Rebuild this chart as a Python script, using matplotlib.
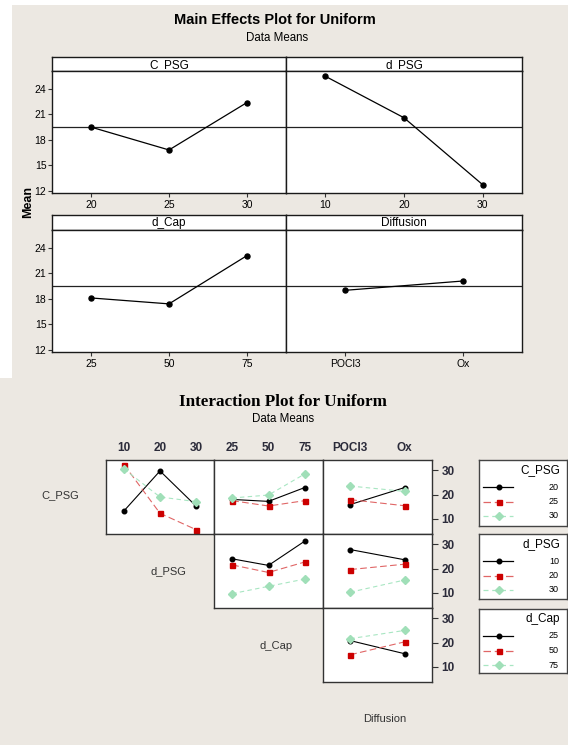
import numpy as np
import matplotlib
matplotlib.use('Agg')
from matplotlib import pyplot as plt
from matplotlib.patches import Rectangle

# factor levels
c_psg_levels = ['20', '25', '30']
d_psg_levels = ['10', '20', '30']
d_cap_levels = ['25', '50', '75']
diffusion_levels = ['POCl3', 'Ox']

# main effects (data means)
grand_mean = 19.5
me_c_psg = [19.5, 16.8, 22.4]
me_d_psg = [25.5, 20.6, 12.7]
me_d_cap = [18.1, 17.4, 23.1]
me_diffusion = [19.0, 20.1]

# interaction means, rows = trace factor level, cols = x factor level
int_cpsg_dpsg = [[13.3, 29.7, 15.3], [32.3, 12.3, 5.6], [30.5, 19.0, 17.1]]
int_cpsg_dcap = [[18.0, 17.2, 22.9], [17.5, 15.3, 17.5], [18.6, 19.8, 28.5]]
int_cpsg_diff = [[15.9, 22.9], [17.9, 15.4], [23.5, 21.3]]
int_dpsg_dcap = [[24.0, 21.3, 31.3], [21.5, 18.4, 22.7], [9.7, 12.7, 15.7]]
int_dpsg_diff = [[27.8, 23.6], [19.6, 21.8], [10.3, 15.3]]
int_dcap_diff = [[20.8, 15.4], [15.0, 20.3], [21.6, 25.0]]

W, H = 568, 745
BG = '#ECE8E2'
FONT = 'Liberation Sans'
plt.rcParams['font.family'] = FONT

fig = plt.figure(figsize=(W / 100, H / 100), dpi=100, facecolor='white')

def ax_px(x0, y0, x1, y1, **kw):
    return fig.add_axes([x0 / W, 1 - y1 / H, (x1 - x0) / W, (y1 - y0) / H], **kw)

# backgrounds
bg = ax_px(0, 0, W, H)
bg.set_xlim(0, W); bg.set_ylim(H, 0); bg.axis('off')
bg.add_patch(Rectangle((12, 5), W - 12, 373, color=BG, lw=0))
bg.add_patch(Rectangle((0, 378), W, H - 378, color=BG, lw=0))

# ---------------- main effects ----------------
fig.text(275 / W, 1 - 20 / H, 'Main Effects Plot for Uniform', ha='center', va='center',
         fontsize=10.5, fontweight='bold')
fig.text(277 / W, 1 - 38 / H, 'Data Means', ha='center', va='center', fontsize=8.3)
fig.text(28 / W, 1 - 202 / H, 'Mean', ha='center', va='center', rotation=90,
         fontsize=9, fontweight='bold')

panels = [
    ('C_PSG', c_psg_levels, me_c_psg, 52, 286, 57, 71, 193, True),
    ('d_PSG', d_psg_levels, me_d_psg, 286, 522, 57, 71, 193, False),
    ('d_Cap', d_cap_levels, me_d_cap, 52, 286, 215, 230, 352, True),
    ('Diffusion', diffusion_levels, me_diffusion, 286, 522, 215, 230, 352, False),
]
for name, levels, means, x0, x1, s0, p0, p1, left in panels:
    st = ax_px(x0, s0, x1, p0)
    st.set_xticks([]); st.set_yticks([])
    st.set_facecolor('white')
    st.text(0.5, 0.45, name, ha='center', va='center', fontsize=8.5, transform=st.transAxes)
    ax = ax_px(x0, p0, x1, p1)
    x = np.arange(len(levels))
    ax.axhline(grand_mean, color='#222222', lw=0.9)
    ax.plot(x, means, color='black', lw=0.9, marker='o', ms=3.6)
    ax.set_xlim(-0.5, len(levels) - 0.5)
    ax.set_ylim(11.72, 26.12)
    ax.set_xticks(x)
    ax.set_xticklabels(levels)
    ax.tick_params(axis='x', length=3, width=0.8, labelsize=7.5, pad=2, color='#333333')
    if left:
        ax.set_yticks([12, 15, 18, 21, 24])
        ax.tick_params(axis='y', length=3, width=0.8, labelsize=7.5, pad=1, color='#333333')
    else:
        ax.set_yticks([])
    for a in (st, ax):
        for sp in a.spines.values():
            sp.set_linewidth(1.0)
            sp.set_color('#1a1a1a')

# ---------------- interaction plot ----------------
fig.text(283 / W, 1 - 402 / H, 'Interaction Plot for Uniform', ha='center', va='center',
         fontsize=12.3, fontweight='bold', family='Liberation Serif')
fig.text(283 / W, 1 - 419 / H, 'Data Means', ha='center', va='center', fontsize=8.3)

styles = [
    dict(color='black', ls='-', marker='o', ms=3.3, mfc='black', mec='black'),
    dict(color='#E06666', ls=(0, (6, 3)), marker='s', ms=3.6, mfc='#CC0000', mec='#CC0000'),
    dict(color='#A8E6C2', ls=(0, (4, 3)), marker='D', ms=3.6, mfc='#A0DFB8', mec='#A0DFB8'),
]
col_x = [(106, 214), (214, 323), (323, 432)]
row_y = [(460, 534), (534, 608), (608, 682)]
col_levels = [d_psg_levels, d_cap_levels, diffusion_levels]
cells = {
    (0, 0): int_cpsg_dpsg, (0, 1): int_cpsg_dcap, (0, 2): int_cpsg_diff,
    (1, 1): int_dpsg_dcap, (1, 2): int_dpsg_diff,
    (2, 2): int_dcap_diff,
}
tick_col = '#2b2b3a'
for (r, c), data in cells.items():
    ax = ax_px(col_x[c][0], row_y[r][0], col_x[c][1], row_y[r][1])
    levels = col_levels[c]
    x = np.arange(len(levels))
    for k in range(3):
        ax.plot(x, data[k], lw=0.8, **styles[k])
    ax.set_xlim(-0.5, len(levels) - 0.5)
    ax.set_ylim(3.8, 34.2)
    if r == 0:
        ax.xaxis.tick_top()
        ax.set_xticks(x)
        ax.set_xticklabels(levels)
        ax.tick_params(axis='x', length=0, pad=4, labelsize=8.5, labelcolor=tick_col)
        for t in ax.get_xticklabels():
            t.set_fontweight('bold')
    else:
        ax.set_xticks([])
    if c == 2:
        ax.yaxis.tick_right()
        ax.set_yticks([10, 20, 30])
        ax.tick_params(axis='y', length=4, width=0.8, pad=3, labelsize=8.5,
                       labelcolor=tick_col, color='#333333')
        for t in ax.get_yticklabels():
            t.set_fontweight('bold')
    else:
        ax.set_yticks([])
    for sp in ax.spines.values():
        sp.set_linewidth(1.0)
        sp.set_color('#333333')

row_names = ['C_PSG', 'd_PSG', 'd_Cap', 'Diffusion']
row_label_pos = [(60, 495), (168, 571), (276, 646), (385, 719)]
for name, (lx, ly) in zip(row_names, row_label_pos):
    fig.text(lx / W, 1 - ly / H, name, ha='center', va='center', fontsize=8, color='#333333')

# legend boxes
legend_info = [('C_PSG', c_psg_levels, 460, 526), ('d_PSG', d_psg_levels, 534, 599),
               ('d_Cap', d_cap_levels, 609, 673)]
for title, levels, y0, y1 in legend_info:
    lg = ax_px(479, y0, 567, y1)
    lg.set_xlim(479, 567); lg.set_ylim(y1, y0)
    lg.set_xticks([]); lg.set_yticks([])
    lg.set_facecolor('white')
    for sp in lg.spines.values():
        sp.set_linewidth(1.0)
        sp.set_color('#444444')
    lg.text(560, y0 + 10, title, ha='right', va='center', fontsize=8.5)
    for k, lev in enumerate(levels):
        yy = y0 + 27 + 14.5 * k
        lg.plot([483, 499, 513], [yy, yy, yy], lw=0.9, markevery=[1], **styles[k])
        lg.text(559, yy, lev, ha='right', va='center', fontsize=6.5)

fig.savefig('out.png', dpi=100, facecolor='white')
